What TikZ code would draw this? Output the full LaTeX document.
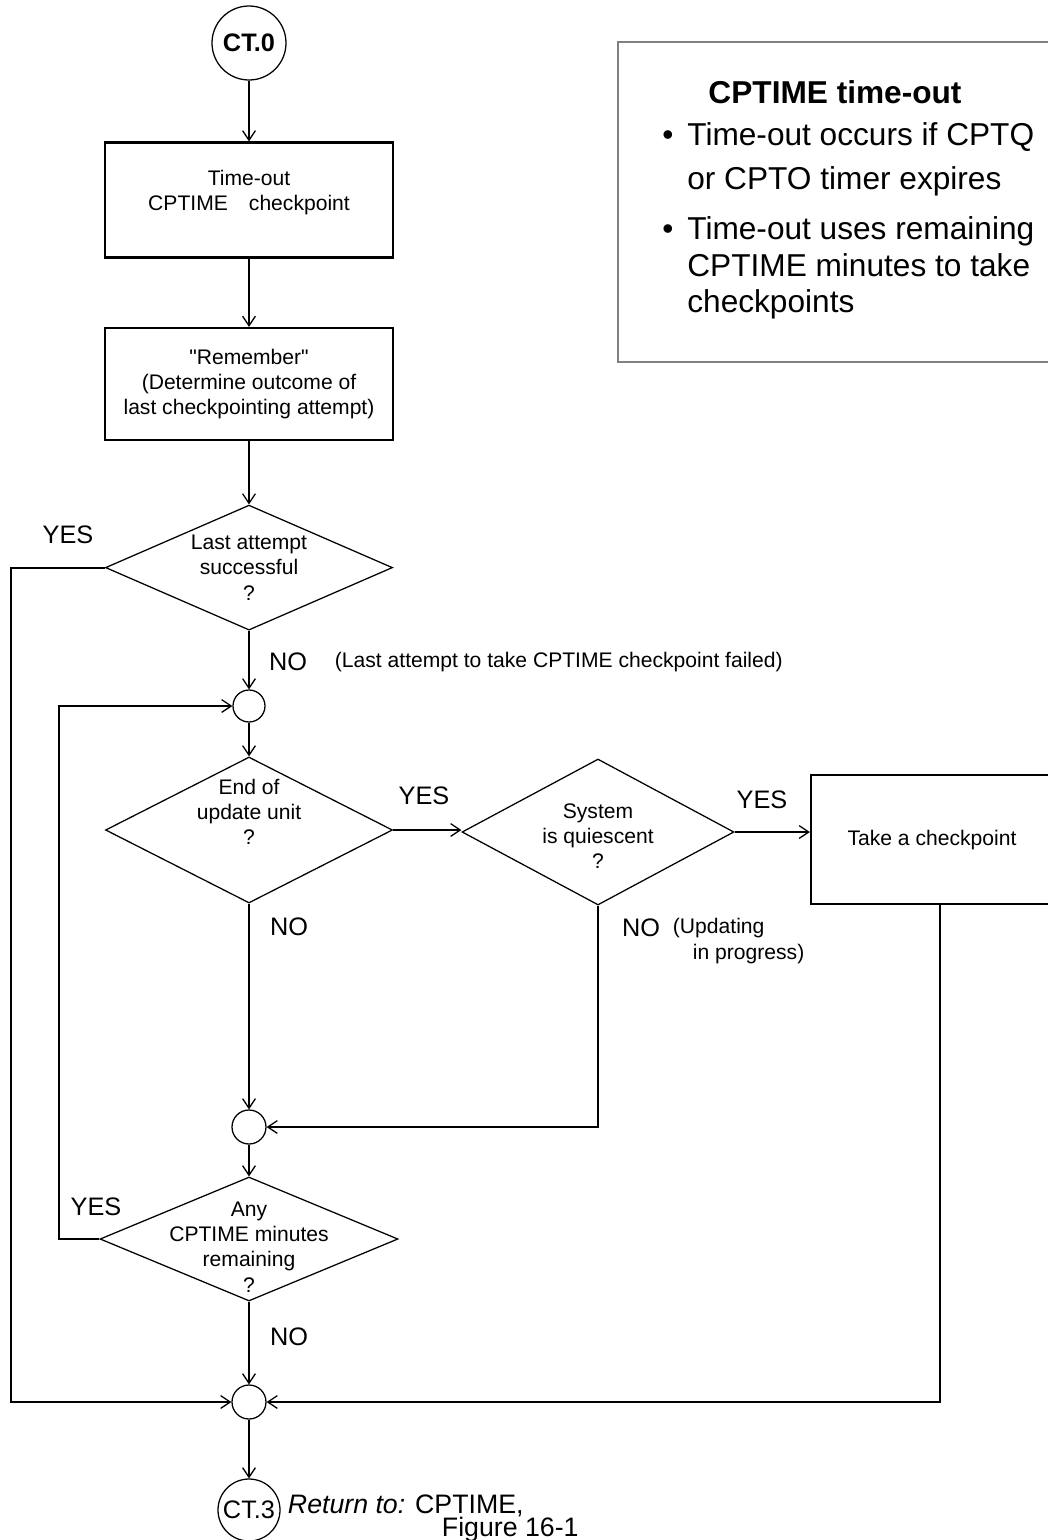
\documentclass[tikz,border=0pt]{standalone}
\usepackage{fontspec}
\setmainfont{Liberation Sans}
\usetikzlibrary{arrows.meta,shapes.geometric,calc}
\definecolor{ink}{HTML}{000000}
\definecolor{frame}{HTML}{808080}
\tikzset{
  every node/.style={text=ink},
  box/.style={draw=ink, line width=1.6pt, inner sep=2pt, align=center,
              font=\fontsize{15}{18}\selectfont},
  dec/.style={diamond, draw=ink, line width=0.9pt, inner sep=0pt},
  dectxt/.style={align=center, font=\fontsize{15}{18}\selectfont, inner sep=0pt},
  joint/.style={circle, draw=ink, line width=0.9pt, minimum size=0.85cm, inner sep=0pt},
  term/.style={circle, draw=ink, line width=0.9pt, inner sep=0pt, minimum size=1.6cm,
               font=\fontsize{18}{21}\selectfont},
  arr/.style={-{Straight Barb[length=2.4mm, width=3.2mm, line width=0.9pt]},
              line width=1.4pt, draw=ink},
  yn/.style={font=\fontsize{18}{21}\selectfont},
  note/.style={font=\fontsize{15}{18}\selectfont, align=left},
  info/.style={draw=frame, line width=1.4pt},
  big/.style={font=\fontsize{22.5}{27}\selectfont},
}

\begin{document}
\begin{tikzpicture}

\useasboundingbox (0,0) rectangle (26.175,-38.5);

% --- info panel, top right ---
\node[info, minimum width=10.85cm, minimum height=8cm] (panel) at (20.875,-5.05) {};
\node[big, font=\fontsize{22.5}{27}\selectfont\bfseries] (ptitle) at (20.875,-2.3) {CPTIME time-out};
\node[big, anchor=west, inner sep=0pt] (pb1) at (16.55,-3.975)
  {\fontsize{22.5}{31}\selectfont\begin{tabular}{@{}l@{\hspace{0.35cm}}l@{}}
   \textbullet & Time-out occurs if CPTQ\\ & or CPTO timer expires\end{tabular}};
\node[big, anchor=west, inner sep=0pt] (pb2) at (16.55,-6.725)
  {\fontsize{22.5}{26}\selectfont\begin{tabular}{@{}l@{\hspace{0.35cm}}l@{}}
   \textbullet & Time-out uses remaining\\ & CPTIME minutes to take\\ & checkpoints\end{tabular}};

% --- main column ---
\node[term, minimum size=1.85cm, font=\fontsize{18}{21}\selectfont\bfseries] (ct0) at (6.225,-1.075) {CT.0};
\node[box, minimum width=7.2cm, minimum height=2.875cm] (tout) at (6.225,-5.0)
  {Time-out\\CPTIME\hspace{1em}checkpoint\\[-0.15cm]};
\node[box, minimum width=7.2cm, minimum height=2.8cm] (remember) at (6.225,-9.6)
  {\textquotedbl Remember\textquotedbl\\(Determine outcome of\\last checkpointing attempt)};
\node[dec, minimum width=7.175cm, minimum height=3.125cm,
      label={[dectxt]center:{Last attempt\\successful\\?}}] (last) at (6.225,-14.19) {};
\node[joint, minimum size=0.8cm] (j1) at (6.225,-17.65) {};
\node[dec, minimum width=7.175cm, minimum height=3.65cm,
      label={[dectxt, yshift=0.45cm]center:{End of\\update unit\\?}}] (unit) at (6.225,-20.75) {};
\node[dec, minimum width=6.8cm, minimum height=3.65cm,
      label={[dectxt, yshift=-0.1cm]center:{System\\is quiescent\\?}}] (quiet) at (14.95,-20.8) {};
\node[box, minimum width=6.05cm, minimum height=3.225cm] (take) at (23.3,-20.99)
  {Take a checkpoint};
\node[joint] (j2) at (6.225,-28.175) {};
\node[dec, minimum width=7.45cm, minimum height=3.1cm,
      label={[dectxt, yshift=-0.2cm]center:{Any\\CPTIME minutes\\remaining\\?}}] (left) at (6.225,-30.975) {};
\node[joint] (j3) at (6.225,-35.05) {};
\node[term, minimum size=1.55cm] (ct3) at (6.225,-37.75) {CT.3};
\node[anchor=west, align=left, font=\fontsize{19}{16.5}\selectfont] (ret) at (7.075,-37.97)
  {\textit{Return to:} CPTIME,\\\hspace*{3.85cm}Figure 16-1};

% --- branch labels ---
\node[yn] (yes1) at (1.7,-13.375) {YES};
\node[yn] (no1) at (7.2,-16.55) {NO};
\node[note, anchor=west] (why1) at (8.25,-16.55) {(Last attempt to take CPTIME checkpoint failed)};
\node[yn] (yes2) at (10.6,-19.9) {YES};
\node[yn] (yes3) at (19.05,-20.0) {YES};
\node[yn] (no2) at (7.225,-23.175) {NO};
\node[yn] (no3) at (16.025,-23.2) {NO};
\node[note, anchor=west] (why3) at (16.7,-23.525) {(Updating\\\hspace*{0.5cm}in progress)};
\node[yn] (yes4) at (2.4,-30.175) {YES};
\node[yn] (no4) at (7.225,-33.425) {NO};

% --- loop rails ---
\coordinate (outer) at (0.275,-25);
\coordinate (inner) at (1.475,-25);

% --- connectors ---
\draw[arr] (ct0) -- (tout);
\draw[arr] (tout) -- (remember);
\draw[arr] (remember) -- (last);
\draw[arr] (last) -- (j1);
\draw[arr] (last.west) -| (outer) |- (j3.west);
\draw[arr] (j1) -- (unit);
\draw[arr] (unit.east) -- (quiet.west |- unit.east);
\draw[arr] (quiet.east) -- (quiet.east -| take.west);
\draw[arr] (unit) -- (j2);
\draw[arr] (quiet.south) |- (j2.east);
\draw[arr] (j2) -- (left);
\draw[arr] (left.west) -| (inner) |- (j1.west);
\draw[arr] (left) -- (j3);
\draw[arr] ([xshift=0.2cm]take.south) |- (j3.east);
\draw[arr] (j3) -- (ct3);

\end{tikzpicture}
\end{document}
